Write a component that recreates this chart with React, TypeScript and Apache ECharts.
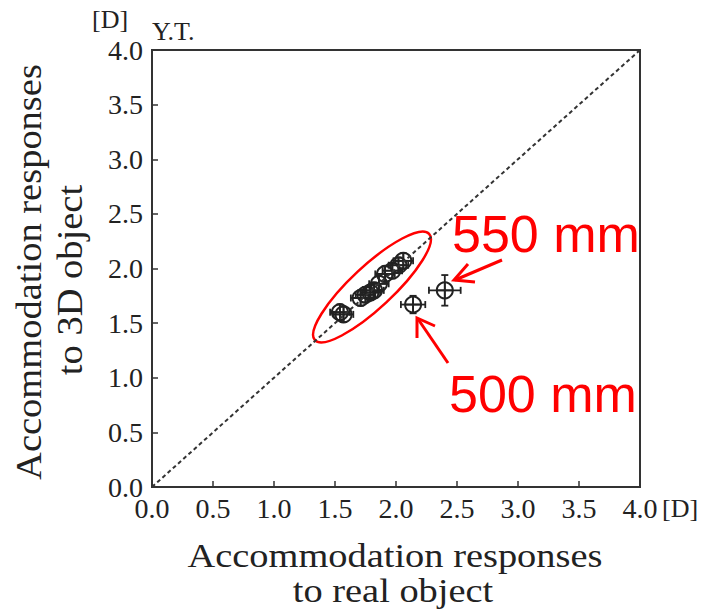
import React, { useEffect, useRef } from "react";
import * as echarts from "echarts";

const xValues = [1.54, 1.57, 1.71, 1.75, 1.79, 1.82, 1.86, 1.91, 1.97, 2.02, 2.06, 2.14, 2.40];
const yValues = [1.60, 1.58, 1.73, 1.76, 1.78, 1.80, 1.86, 1.95, 1.98, 2.03, 2.07, 1.67, 1.80];
const xErrors = [0.08, 0.08, 0.08, 0.08, 0.08, 0.08, 0.08, 0.08, 0.08, 0.08, 0.08, 0.10, 0.13];
const yErrors = [0.07, 0.07, 0.07, 0.07, 0.07, 0.07, 0.07, 0.07, 0.07, 0.07, 0.07, 0.08, 0.14];
const diagonal = [[0, 0], [4, 4]];
const axisMin = 0;
const axisMax = 4;
const axisStep = 0.5;

const SERIF = '"Liberation Serif", "Times New Roman", serif';
const SANS = '"Liberation Sans", Arial, sans-serif';

export default function App() {
  const ref = useRef<HTMLDivElement>(null);
  useEffect(() => {
    if (!ref.current) return;
    const chart = echarts.init(ref.current, null, { renderer: "svg" });
    const points = xValues.map((x, i) => [x, yValues[i], xErrors[i], yErrors[i]]);
    const ink = "#222";
    const axisCommon = {
      type: "value",
      min: axisMin,
      max: axisMax,
      interval: axisStep,
      splitLine: { show: false },
      axisLine: { show: true, lineStyle: { color: "#333", width: 2 } },
      axisTick: { show: true, inside: true, length: 6, lineStyle: { color: "#333", width: 1.5 } },
      axisLabel: {
        color: ink,
        fontFamily: SERIF,
        fontSize: 28,
        formatter: (v: number) => v.toFixed(1),
      },
    };
    chart.setOption({
      animation: false,
      backgroundColor: "#fff",
      grid: {
        left: 152,
        top: 50,
        width: 488,
        height: 437,
        show: true,
        borderColor: "#333",
        borderWidth: 2,
      },
      xAxis: { ...axisCommon, axisLabel: { ...axisCommon.axisLabel, margin: 7 } },
      yAxis: { ...axisCommon, axisLabel: { ...axisCommon.axisLabel, margin: 9 } },
      series: [
        {
          type: "line",
          data: diagonal,
          symbol: "none",
          lineStyle: { color: "#333", width: 2, type: [4, 3] },
          silent: true,
        },
        {
          type: "custom",
          data: points,
          encode: { x: 0, y: 1 },
          clip: false,
          renderItem: (params: any, api: any) => {
            const x = api.value(0);
            const y = api.value(1);
            const ex = api.value(2);
            const ey = api.value(3);
            const c = api.coord([x, y]);
            const l = api.coord([x - ex, y]);
            const r = api.coord([x + ex, y]);
            const t = api.coord([x, y + ey]);
            const b = api.coord([x, y - ey]);
            const st = { stroke: ink, lineWidth: 1.8, fill: null };
            const cap = 3.5;
            return {
              type: "group",
              children: [
                { type: "line", shape: { x1: l[0], y1: l[1], x2: r[0], y2: r[1] }, style: st },
                { type: "line", shape: { x1: t[0], y1: t[1], x2: b[0], y2: b[1] }, style: st },
                { type: "line", shape: { x1: l[0], y1: l[1] - cap, x2: l[0], y2: l[1] + cap }, style: st },
                { type: "line", shape: { x1: r[0], y1: r[1] - cap, x2: r[0], y2: r[1] + cap }, style: st },
                { type: "line", shape: { x1: t[0] - cap, y1: t[1], x2: t[0] + cap, y2: t[1] }, style: st },
                { type: "line", shape: { x1: b[0] - cap, y1: b[1], x2: b[0] + cap, y2: b[1] }, style: st },
                { type: "line", shape: { x1: c[0] - 8, y1: c[1], x2: c[0] + 8, y2: c[1] }, style: st },
                { type: "line", shape: { x1: c[0], y1: c[1] - 8, x2: c[0], y2: c[1] + 8 }, style: st },
                { type: "circle", shape: { cx: c[0], cy: c[1], r: 8 }, style: { stroke: ink, lineWidth: 2, fill: "rgba(255,255,255,0)" } },
              ],
            };
          },
        },
      ],
      graphic: [
        { type: "text", left: 92, top: 6, style: { text: "[D]", font: `26px ${SERIF}`, fill: ink } },
        { type: "text", left: 152, top: 18, style: { text: "Y.T.", font: `26px ${SERIF}`, fill: ink } },
        { type: "text", left: 662, top: 495, style: { text: "[D]", font: `26px ${SERIF}`, fill: ink } },
        {
          type: "text",
          x: 395,
          y: 556,
          scaleX: 1.13,
          style: { text: "Accommodation responses", font: `34px ${SERIF}`, fill: ink, textAlign: "center", textVerticalAlign: "middle" },
        },
        {
          type: "text",
          x: 393,
          y: 591,
          scaleX: 1.13,
          style: { text: "to real object", font: `34px ${SERIF}`, fill: ink, textAlign: "center", textVerticalAlign: "middle" },
        },
        {
          type: "text",
          x: 29,
          y: 272,
          rotation: Math.PI / 2,
          scaleX: 1.1,
          style: { text: "Accommodation responses", font: `35px ${SERIF}`, fill: ink, textAlign: "center", textVerticalAlign: "middle" },
        },
        {
          type: "text",
          x: 70,
          y: 280,
          rotation: Math.PI / 2,
          scaleX: 1.1,
          style: { text: "to 3D object", font: `35px ${SERIF}`, fill: ink, textAlign: "center", textVerticalAlign: "middle" },
        },
        {
          type: "ellipse",
          x: 372,
          y: 287,
          rotation: 0.75,
          shape: { cx: 0, cy: 0, rx: 78, ry: 21 },
          style: { stroke: "#ff0000", lineWidth: 2.5, fill: null },
        },
        { type: "text", left: 452, top: 208, style: { text: "550 mm", font: `52px ${SANS}`, fill: "#ff0000" } },
        { type: "text", left: 449, top: 368, style: { text: "500 mm", font: `52px ${SANS}`, fill: "#ff0000" } },
        { type: "line", shape: { x1: 502, y1: 260, x2: 455, y2: 280 }, style: { stroke: "#ff0000", lineWidth: 3 } },
        { type: "polyline", shape: { points: [[468, 264], [454, 280], [475, 282]] }, style: { stroke: "#ff0000", lineWidth: 3, fill: null } },
        { type: "line", shape: { x1: 448, y1: 363, x2: 418, y2: 319 }, style: { stroke: "#ff0000", lineWidth: 3 } },
        { type: "polyline", shape: { points: [[417, 338], [417, 318], [435, 326]] }, style: { stroke: "#ff0000", lineWidth: 3, fill: null } },
      ],
    });
    return () => chart.dispose();
  }, []);
  return (
    <div
      ref={ref}
      style={{ position: "fixed", left: 0, top: 0, width: 704, height: 612, background: "#fff" }}
    />
  );
}
